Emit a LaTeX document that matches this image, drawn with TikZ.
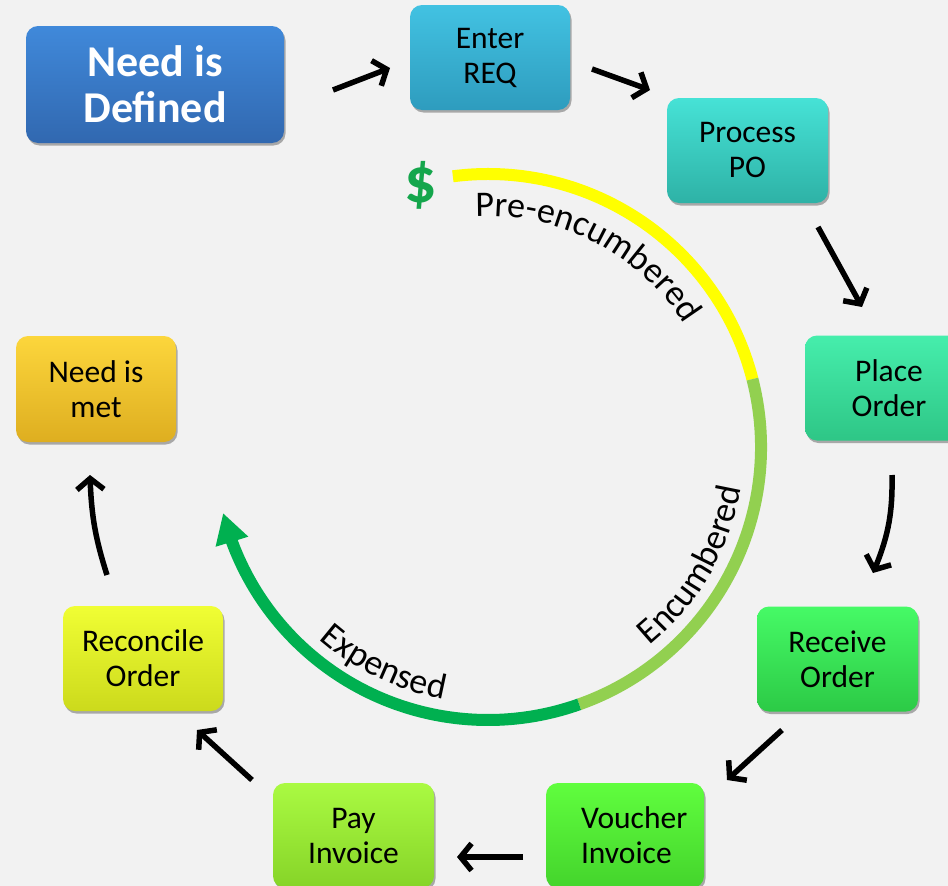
\documentclass[tikz,border=0pt]{standalone}
\usepackage{fontspec}
\setmainfont{Carlito}
\usetikzlibrary{arrows.meta,bending,shadows,decorations.text}
\newcommand\bxfont{\fontsize{31.5}{35}\selectfont}
\newcommand\needfont{\fontsize{44}{46}\selectfont\bfseries}
\newcommand\arcfont{\fontsize{36}{36}\selectfont}
\definecolor{bgc}{HTML}{F2F2F2}
\definecolor{needT}{HTML}{4089DA}
\definecolor{needB}{HTML}{3168B0}
\definecolor{entT}{HTML}{42C2E2}
\definecolor{entB}{HTML}{2E9CBE}
\definecolor{proT}{HTML}{46E2D6}
\definecolor{proB}{HTML}{2EB2A6}
\definecolor{plaT}{HTML}{46EEAC}
\definecolor{plaB}{HTML}{2EC686}
\definecolor{recT}{HTML}{46FA66}
\definecolor{recB}{HTML}{2CCA46}
\definecolor{vouT}{HTML}{60FE3E}
\definecolor{vouB}{HTML}{44D42C}
\definecolor{payT}{HTML}{AAFA42}
\definecolor{payB}{HTML}{86D428}
\definecolor{conT}{HTML}{F0FE34}
\definecolor{conB}{HTML}{CCDA1C}
\definecolor{metT}{HTML}{FCD63C}
\definecolor{metB}{HTML}{DEAE20}
\definecolor{ringY}{HTML}{FFFF00}
\definecolor{ringL}{HTML}{92D050}
\definecolor{ringD}{HTML}{00B050}
\definecolor{dollarc}{HTML}{14A64C}
\begin{document}
\begin{tikzpicture}[x=1pt,y=1pt,
  procbox/.style={rounded corners=12pt, minimum width=160pt, minimum height=105pt,
    align=center, inner sep=0pt, font=\bxfont, text=black,
    drop shadow={shadow xshift=1.5pt, shadow yshift=-2.5pt, opacity=0.3, fill=black}},
  flow/.style={line width=5.5pt, -{Straight Barb[length=11pt,width=27pt]}},
  ring/.style={line width=12pt},
  arclabel/.style={decorate, decoration={text along path, text align=center, text={|\arcfont|#1}}}
]
\useasboundingbox (0,0) rectangle (948,-886);
\clip (0,0) rectangle (948,-886);
\fill[bgc] (0,0) rectangle (948,-886);

% boxes
\node[procbox, top color=needT, bottom color=needB, minimum width=258pt, minimum height=117pt,
      font=\needfont, text=white] (need) at (155,-84.5) {Need is\\Defined};
\node[procbox, top color=entT, bottom color=entB] (enter) at (490,-57.5) {Enter\\REQ};
\node[procbox, top color=proT, bottom color=proB, minimum width=161pt] (process) at (747.5,-150.5) {Process\\PO};
\node[procbox, top color=plaT, bottom color=plaB, minimum width=168pt] (place) at (889,-388) {Place\\Order};
\node[procbox, top color=recT, bottom color=recB, minimum width=161pt] (receive) at (837.5,-659) {Receive\\Order};
\node[procbox, top color=vouT, bottom color=vouB, minimum width=158pt, text width=88pt,
      align=left, inner xsep=35pt] (voucher) at (625,-835.5) {Voucher\\Invoice};
\node[procbox, top color=payT, bottom color=payB, minimum width=161pt] (pay) at (353.5,-835.5) {Pay\\Invoice};
\node[procbox, top color=conT, bottom color=conB] (reconcile) at (143,-658.5) {Reconcile\\Order};
\node[procbox, top color=metT, bottom color=metB, minimum height=106pt] (met) at (96,-389) {Need is\\met};

% flow arrows
\coordinate (a1s) at (333,-90);  \coordinate (a1e) at (390,-68);
\coordinate (a2s) at (592,-69);  \coordinate (a2e) at (650,-90);
\coordinate (a3s) at (818,-227); \coordinate (a3e) at (862,-307);
\coordinate (a4s) at (892,-475); \coordinate (a4e) at (873,-573);
\coordinate (a5s) at (782,-730); \coordinate (a5e) at (727,-780);
\coordinate (a6s) at (523,-857); \coordinate (a6e) at (457,-857);
\coordinate (a7s) at (252,-780); \coordinate (a7e) at (197,-730);
\coordinate (a8s) at (107,-575); \coordinate (a8e) at (90,-475);
\draw[flow] (a1s) -- (a1e);
\draw[flow] (a2s) -- (a2e);
\draw[flow] (a3s) -- (a3e);
\draw[flow] (a4s) to[bend left=12] (a4e);
\draw[flow] (a5s) -- (a5e);
\draw[flow] (a6s) -- (a6e);
\draw[flow] (a7s) -- (a7e);
\draw[flow] (a8s) to[bend left=8] (a8e);

% money ring
\coordinate (O) at (488,-447);
\draw[ring, ringY] ([shift={(97.4:273pt)}]O) arc[start angle=97.4, end angle=14.4, radius=273pt];
\draw[ring, ringL] ([shift={(14.4:273pt)}]O) arc[start angle=14.4, end angle=-70.5, radius=273pt];
\draw[ring, ringD, -{Triangle[length=30pt,width=32pt]}] ([shift={(-70.5:273pt)}]O) arc[start angle=-70.5, end angle=-166, radius=273pt];

\path[arclabel=Pre-encumbered] ([shift={(92.2:231pt)}]O) arc[start angle=92.2, end angle=32.9, radius=231pt];
\path[arclabel=Encumbered] ([shift={(-50.8:256pt)}]O) arc[start angle=-50.8, end angle=-9.3, radius=256pt];
\path[arclabel=Expensed] ([shift={(228.7:256pt)}]O) arc[start angle=228.7, end angle=260, radius=256pt];

\node[font=\fontsize{64}{64}\selectfont\bfseries, text=dollarc, inner sep=0pt] (dollar) at (421,-185) {\$};
\end{tikzpicture}
\end{document}
